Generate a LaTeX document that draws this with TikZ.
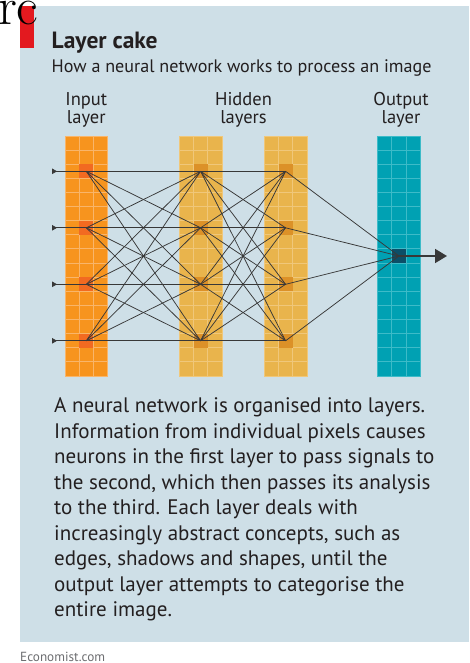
\documentclass[tikz,border=0pt]{standalone}
\usepackage{fontspec}
\newfontfamily\ptsans{PT Sans}
\usetikzlibrary{arrows.meta}
\definecolor{panel}{HTML}{CEDFE7}
\definecolor{redbar}{HTML}{E3191F}
\definecolor{inorange}{HTML}{F7941E}
\definecolor{inline}{HTML}{F9B56A}
\definecolor{inhigh}{HTML}{F26A21}
\definecolor{hidgold}{HTML}{E9B44C}
\definecolor{hidline}{HTML}{F0C77A}
\definecolor{hidhigh}{HTML}{DC9128}
\definecolor{outteal}{HTML}{00A1B3}
\definecolor{outline}{HTML}{3DBBC8}
\definecolor{outhigh}{HTML}{0B4F68}
\definecolor{ink}{HTML}{231F20}
\definecolor{linkc}{HTML}{383838}
\definecolor{foot}{HTML}{6D6E71}
\newcommand\gridcol[3]{%
  \fill[#2] (#1,136) rectangle ++(42.6,240);
  \foreach \i in {1,2} \draw[#3, line width=1pt] ({#1+\i*14.2},136) -- ++(0,240);
  \foreach \j in {1,...,16} \draw[#3, line width=1pt] (#1,{136+\j*240/17}) -- ++(42.6,0);
  \draw[#3, line width=0.8pt] (#1,136) rectangle ++(42.6,240);
}
\begin{document}
\begin{tikzpicture}[x=1pt,y=-1pt,
  cell/.style={rectangle, minimum width=14.2pt, minimum height=14.1pt, inner sep=0pt, draw=none},
  incell/.style={cell, fill=inhigh},
  hidcell/.style={cell, fill=hidhigh},
  outcell/.style={cell, fill=outhigh},
  link/.style={draw=linkc, line width=0.75pt},
  lab/.style={font=\ptsans\fontsize{18.5}{18}\selectfont, text=ink, align=center, anchor=base, inner sep=0pt},
]
\useasboundingbox (0,0) rectangle (469,663);
\fill[white] (0,0) rectangle (469,663);
\fill[panel] (20,6) rectangle (469,641.5);
\fill[redbar] (20,6) rectangle (34,48);
\node[anchor=base west, inner sep=0pt, font=\fontsize{53}{53}\selectfont] (rc) at (-2,24.5) {rc};

\node[anchor=base west, inner sep=0pt, text=ink, font=\ptsans\bfseries\fontsize{23.5}{24}\selectfont] (title) at (51.5,48.3) {Layer cake};
\node[anchor=base west, inner sep=0pt, text=ink, font=\ptsans\fontsize{18.1}{18}\selectfont] (sub) at (51.5,72.7) {How a neural network works to process an image};

\node[lab] (linput) at (86.3,123.5) {Input\\layer};
\node[lab] (lhidden) at (243.5,123.5) {Hidden\\layers};
\node[lab] (loutput) at (401,123.5) {Output\\layer};

\gridcol{65}{inorange}{inline}
\gridcol{179.3}{hidgold}{hidline}
\gridcol{264.3}{hidgold}{hidline}
\gridcol{377.7}{outteal}{outline}

\foreach \k/\yy in {1/171.3,2/227.8,3/284.3,4/340.8}{
  \node[incell] (i\k) at (86.3,\yy) {};
  \node[hidcell] (h\k) at (200.6,\yy) {};
  \node[hidcell] (g\k) at (285.6,\yy) {};
  \coordinate (s\k) at (52,\yy);
}
\node[outcell] (o) at (399,256) {};
\coordinate (out) at (447,256);

\foreach \a in {1,...,4}{
  \draw[link, {Triangle[reversed,length=5pt,width=5.5pt]}-] (s\a) -- (i\a.center);
  \draw[link] (g\a.center) -- (o.center);
  \foreach \b in {1,...,4}{
    \draw[link] (i\a.center) -- (h\b.center);
    \draw[link] (h\a.center) -- (g\b.center);
  }
}
\draw[draw=linkc, line width=1.8pt, -{Triangle[length=12pt,width=14pt]}] (o.center) -- (out);

\node[anchor=base west, inner sep=0pt, text=ink, align=left,
  font=\ptsans\fontsize{21}{25.5}\selectfont] (body) at (54,616.7)
{A neural network is organised into layers.\\
Information from individual pixels causes\\
neurons in the first layer to pass signals to\\
the second, which then passes its analysis\\
to the third. Each layer deals with\\
increasingly abstract concepts, such as\\
edges, shadows and shapes, until the\\
output layer attempts to categorise the\\
entire image.};

\node[anchor=base west, inner sep=0pt, text=foot, font=\ptsans\fontsize{13.2}{14}\selectfont] (econ) at (20,661.3) {Economist.com};
\end{tikzpicture}
\end{document}
